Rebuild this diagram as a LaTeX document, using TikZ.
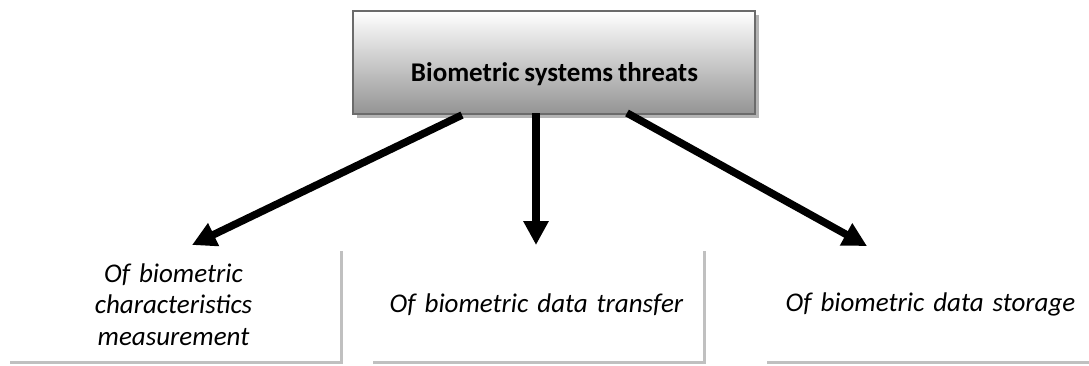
\documentclass[tikz,border=0pt]{standalone}
\usepackage{fontspec}
\setmainfont{Carlito}[WordSpace=0.8]
\usetikzlibrary{arrows.meta,calc,shadows}
\definecolor{frameGray}{HTML}{6B6B6B}
\definecolor{shadowGray}{HTML}{B4B4B4}
\definecolor{lineGray}{HTML}{C0C0C0}
\newcommand{\leaffont}{\fontsize{27}{31.5}\selectfont\itshape\spaceskip=3pt plus 1pt minus 1pt\relax}
\begin{document}
\begin{tikzpicture}[x=1pt,y=-1pt,
  headbox/.style={rectangle, draw=frameGray, line width=2.5pt,
    top color=white, bottom color=black!42, minimum width=402pt,
    minimum height=103pt, inner sep=0pt, outer sep=0pt,
    drop shadow={shadow xshift=4pt, shadow yshift=-4pt, fill=shadowGray, opacity=1}},
  headtext/.style={font=\fontsize{27}{32}\selectfont\bfseries, inner sep=0pt, anchor=base},
  leafbox/.style={rectangle, fill=white, minimum width=333pt, minimum height=113pt,
    inner sep=0pt, outer sep=0pt, text width=320pt, align=center,
    font=\leaffont,
    drop shadow={shadow xshift=3pt, shadow yshift=-3pt, fill=lineGray, opacity=1}},
  branch/.style={line width=7.5pt, -{Triangle[width=24pt,length=24pt]}}
]
\useasboundingbox (0,0) rectangle (1089,365);

% top category box
\node[headbox] (top) at (554,62.5) {};
\node[headtext] (toplabel) at (554.5,81.5) {Biometric systems threats};

% three sub-categories
\node[leafbox] (b1) at (173.5,304.5) {Of biometric\\characteristics\\measurement};
\node[leafbox] (b2) at (536.5,304.5) {Of biometric data transfer};
\node[leafbox] (b3) at (930.5,304.5) {Of biometric data storage};

% arrows from the category to each sub-category
\draw[branch] ($(top.south)+(-92,1)$) -- ($(b1.north)+(18.5,-3)$);
\draw[branch] ($(top.south)+(-18,-1)$) -- ($(b2.north)+(-0.5,-3)$);
\draw[branch] ($(top.south)+(73,-1)$) -- ($(b3.north)+(-63.5,-2)$);
\end{tikzpicture}
\end{document}
